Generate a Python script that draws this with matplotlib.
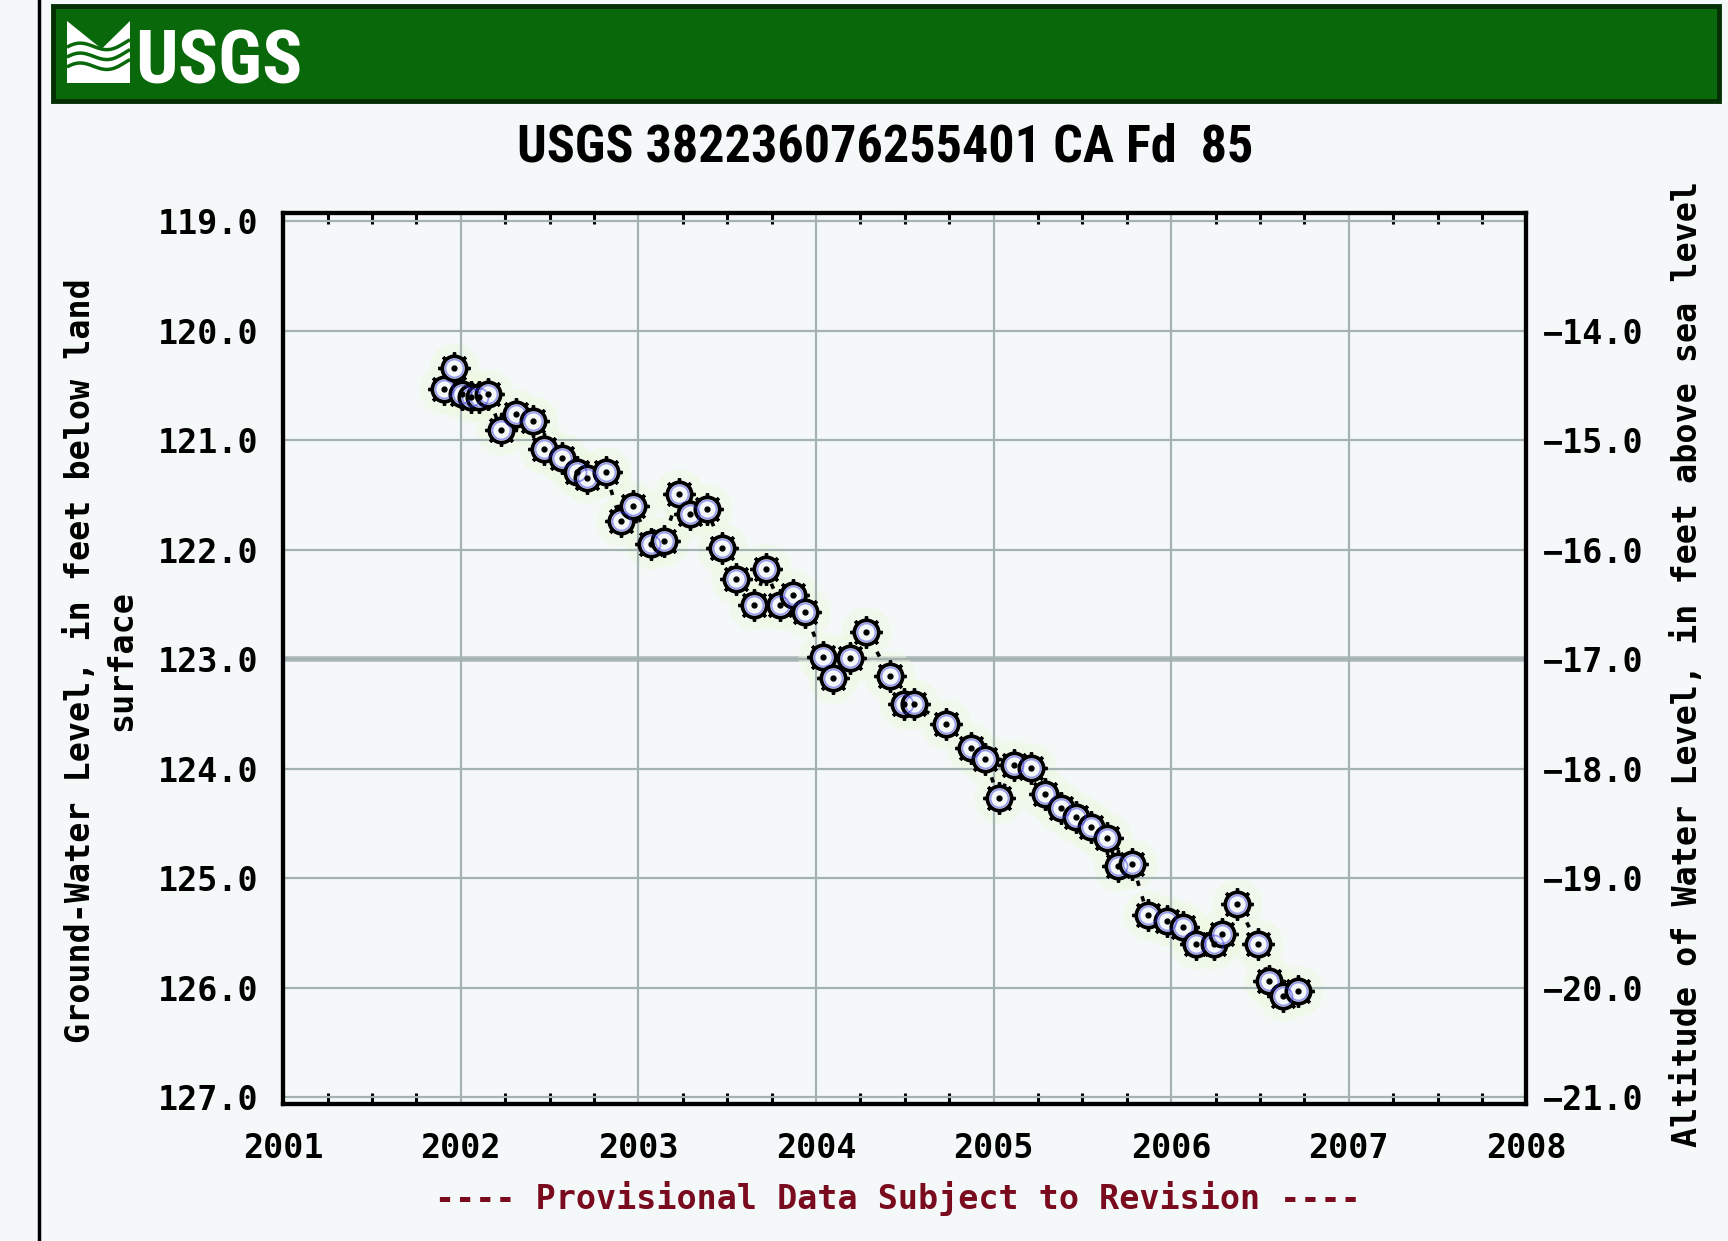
import numpy as np
import matplotlib
matplotlib.use("Agg")
import matplotlib.pyplot as plt
from matplotlib import font_manager
from matplotlib.font_manager import FontProperties
from matplotlib.patches import Rectangle, Polygon
from matplotlib.ticker import MultipleLocator

# measurement dates (decimal year) and depth to water (ft below land surface)
dates = [2001.905, 2001.963, 2002.006, 2002.060, 2002.100, 2002.153, 2002.226,
         2002.308, 2002.405, 2002.470, 2002.567, 2002.653, 2002.713, 2002.815,
         2002.900, 2002.972, 2003.069, 2003.144, 2003.226, 2003.290, 2003.388,
         2003.468, 2003.550, 2003.650, 2003.716, 2003.797, 2003.873, 2003.940,
         2004.037, 2004.095, 2004.194, 2004.280, 2004.418, 2004.496, 2004.554,
         2004.733, 2004.875, 2004.953, 2005.028, 2005.114, 2005.209, 2005.291,
         2005.377, 2005.463, 2005.550, 2005.636, 2005.700, 2005.782, 2005.868,
         2005.976, 2006.069, 2006.140, 2006.240, 2006.285, 2006.371, 2006.490,
         2006.552, 2006.628, 2006.714]
depth = [120.53, 120.34, 120.58, 120.60, 120.60, 120.58, 120.91,
         120.76, 120.82, 121.08, 121.16, 121.29, 121.34, 121.29,
         121.74, 121.60, 121.95, 121.92, 121.49, 121.67, 121.63,
         121.98, 122.27, 122.50, 122.18, 122.50, 122.41, 122.57,
         122.98, 123.17, 122.99, 122.75, 123.15, 123.41, 123.41,
         123.59, 123.81, 123.91, 124.27, 123.97, 123.99, 124.23,
         124.36, 124.44, 124.53, 124.63, 124.89, 124.87, 125.34,
         125.39, 125.45, 125.60, 125.60, 125.51, 125.24, 125.60,
         125.94, 126.08, 126.03]

year_ticks = list(range(2001, 2009))
depth_ticks = list(range(119, 128))
alt_ticks = list(range(-21, -13))
land_surface = 106.0  # altitude = land_surface - depth

title = "USGS 382236076255401 CA Fd  85"
left_label = "Ground-Water Level, in feet below land\nsurface"
right_label = "Altitude of Water Level, in feet above sea level"
footer = "---- Provisional Data Subject to Revision ----"

# look for a narrow bold sans for the title / logo
def find_narrow():
    prefs = ["LiberationSansNarrow-Bold", "RobotoCondensed-Bold", "Roboto_Condensed-Bold",
             "OpenSans_Condensed-Bold", "OpenSansCondensed-Bold", "NotoSans-CondensedBold",
             "DejaVuSansCondensed-Bold"]
    files = [f.fname for f in font_manager.fontManager.ttflist]
    for p in prefs:
        for fn in files:
            if p.lower() in fn.lower().replace(" ", ""):
                return FontProperties(fname=fn)
    return FontProperties(family="Liberation Sans", weight="bold")

narrow = find_narrow()
mono = "DejaVu Sans Mono"
bg = "#F4F8F8"
W, H = 1728, 1241

fig = plt.figure(figsize=(17.28, 12.41), dpi=100, facecolor=bg)
renderer = fig.canvas.get_renderer()

def fit_width(txt, target_px, start=40):
    # shrink/grow font so the text spans the wanted pixel width
    txt.set_fontsize(start)
    w = txt.get_window_extent(renderer).width
    txt.set_fontsize(start * target_px / w)

# green banner
fig.patches.append(Rectangle((53 / W, 1 - 101 / H), 1666 / W, 95 / H,
                             transform=fig.transFigure, facecolor="#09680A",
                             edgecolor="#042F04", lw=3.5, zorder=1))
logo = fig.add_axes([67 / W, 1 - 83 / H, 63 / W, 62 / H])
logo.set_zorder(5)
logo.set_xlim(0, 1)
logo.set_ylim(0, 1)
logo.axis("off")
logo.add_patch(Rectangle((0, 0), 1, 1, facecolor="white", edgecolor="none"))
logo.add_patch(Polygon([[0, 1], [0.55, 0.55], [1, 1]], closed=True,
                       facecolor="#09680A", edgecolor="none"))
t = np.linspace(0, 1, 60)
for off in [0.22, 0.38, 0.54]:
    logo.plot(t, off + 0.08 * np.sin(2 * np.pi * t + 0.5) + 0.12 * t,
              color="#09680A", lw=2.5, solid_capstyle="butt")
logo_txt = fig.text(135 / W, 1 - 83 / H, "USGS", color="white", fontproperties=narrow,
                    ha="left", va="baseline")
fit_width(logo_txt, 167)
logo_txt.set_zorder(6)

# left frame line
fig.add_artist(plt.Line2D([38.5 / W, 38.5 / W], [0, 1], color="black", lw=2.5,
                          transform=fig.transFigure))

title_txt = fig.text(885 / W, 1 - 148 / H, title, fontproperties=narrow,
                     ha="center", va="center")
fit_width(title_txt, 735)

ax = fig.add_axes([0.1639, 0.1104, 0.7194, 0.7182])
ax.set_facecolor(bg)

ax.set_xlim(2001, 2008)
ax.set_ylim(127.064, 118.92)
ax.set_xticks(year_ticks)
ax.set_xticklabels([str(y) for y in year_ticks])
ax.set_yticks(depth_ticks)
ax.set_yticklabels([f"{d:.1f}" for d in depth_ticks])
ax.xaxis.set_minor_locator(MultipleLocator(0.25))
ax.grid(True, which="major", color="#A5B2B2", lw=1.6, zorder=0)
ax.axhline(123, color="#AEB8B8", lw=4, zorder=0.5)

# data: pale halo, dotted connector, gear-like circles
ax.plot(dates, depth, "o", ms=36, color="#EEF8E2", alpha=0.5, mec="none", zorder=1)
ax.plot(dates, depth, color="black", lw=2.6, ls=(0, (1.5, 3)), zorder=2)
ax.plot(dates, depth, ls="none", marker=(8, 2, 0), ms=23, mew=2.4, color="black", zorder=3)
ax.plot(dates, depth, "o", ls="none", ms=17.5, mfc=bg, mec="black", mew=2.7, zorder=4)
ax.plot(dates, depth, "o", ls="none", ms=13, mfc="none", mec="#2A2AE0", mew=1.3,
        alpha=0.45, zorder=5)
ax.plot(dates, depth, "o", ls="none", ms=3.5, color="black", zorder=6)

for s in ax.spines.values():
    s.set_linewidth(3)
ax.tick_params(axis="both", which="major", length=0)
ax.tick_params(axis="x", which="minor", direction="in", top=True, bottom=True,
               length=8, width=2.2)
ax.tick_params(axis="y", which="major", pad=18)
ax.tick_params(axis="x", which="major", pad=20)
for lab in ax.get_xticklabels() + ax.get_yticklabels():
    lab.set_family(mono)
    lab.set_fontweight("bold")
    lab.set_fontsize(24)

ax2 = ax.twinx()
ax2.set_ylim(land_surface - 127.064, land_surface - 118.92)
ax2.set_yticks(alt_ticks)
ax2.set_yticklabels([f"\u2212{abs(a):.1f}" for a in alt_ticks])
ax2.tick_params(axis="y", length=0, pad=12)
for s in ax2.spines.values():
    s.set_linewidth(3)
for lab in ax2.get_yticklabels():
    lab.set_family(mono)
    lab.set_fontweight("bold")
    lab.set_fontsize(24)

fig.text(101 / W, 1 - 661 / H, left_label, rotation=90, ha="center", va="center",
         multialignment="center", family=mono, fontweight="bold", fontsize=24,
         linespacing=1.3)
fig.text(1688 / W, 1 - 664 / H, right_label, rotation=90, ha="center", va="center",
         family=mono, fontweight="bold", fontsize=24)
fig.text(898 / W, 1 - 1199 / H, footer, ha="center", va="center",
         family=mono, fontweight="bold", fontsize=24, color="#7A0A1E")

plt.savefig("out.png", dpi=100, facecolor=bg)
